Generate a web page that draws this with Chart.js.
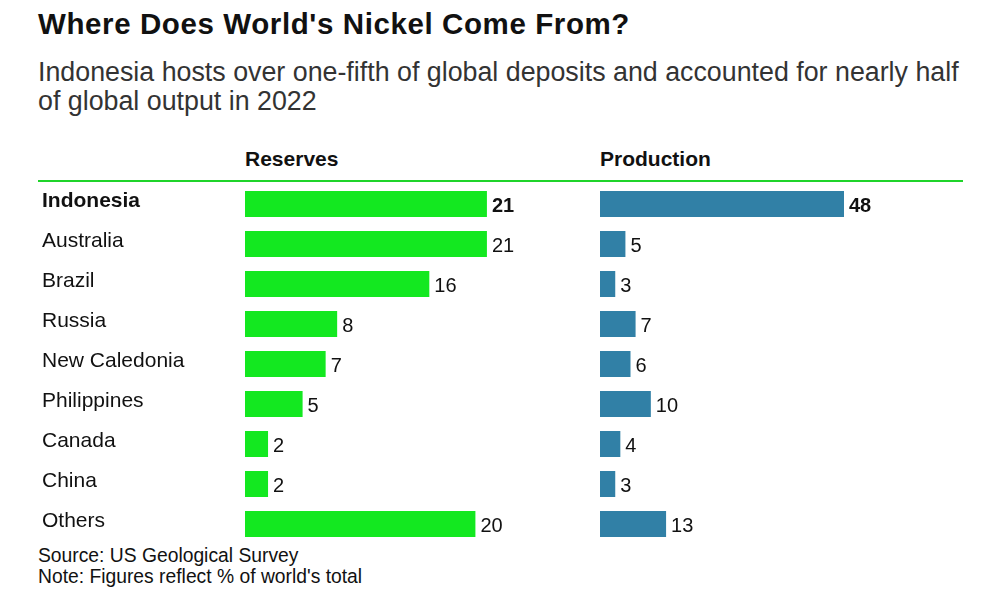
<!DOCTYPE html>
<html>
<head>
<meta charset="utf-8">
<script src="https://cdn.jsdelivr.net/npm/chart.js@4.4.0/dist/chart.umd.min.js"></script>
<style>
  body { margin: 0; background: #fff; font-family: "Liberation Sans", Arial, sans-serif; color: #111; }
  #wrap { position: relative; width: 1000px; height: 606px; overflow: hidden; }
  .t { position: absolute; white-space: nowrap; }
</style>
</head>
<body>
<div id="wrap">
  <div class="t" style="left:38px;top:7px;font-size:29.5px;line-height:34px;font-weight:bold;letter-spacing:0.6px;">Where Does World's Nickel Come From?</div>
  <div class="t" style="left:38px;top:58px;font-size:26.8px;line-height:29px;color:#333;">Indonesia hosts over one-fifth of global deposits and accounted for nearly half<br>of global output in 2022</div>
  <div class="t" style="left:245px;top:147px;font-size:21px;line-height:24px;font-weight:bold;">Reserves</div>
  <div class="t" style="left:600px;top:147px;font-size:21px;line-height:24px;font-weight:bold;">Production</div>
  <div style="position:absolute;left:38px;top:180px;width:925px;height:2px;background:#1fd42a;"></div>
  <div style="position:absolute;left:0;top:184px;width:560px;height:360px;"><canvas id="reserves"></canvas></div>
  <div style="position:absolute;left:560px;top:184px;width:440px;height:360px;"><canvas id="production"></canvas></div>
  <div class="t" style="left:38px;top:545px;font-size:19.3px;line-height:21px;color:#111;">Source: US Geological Survey<br>Note: Figures reflect % of world's total</div>
</div>
<script>
var countries = ['Indonesia', 'Australia', 'Brazil', 'Russia', 'New Caledonia', 'Philippines', 'Canada', 'China', 'Others'];
var reserves = [21, 21, 16, 8, 7, 5, 2, 2, 20];
var production = [48, 5, 3, 7, 6, 10, 4, 3, 13];

// numbers at the end of each bar, first row in bold
var valueLabels = {
  id: 'valueLabels',
  afterDatasetsDraw: function(chart) {
    var ctx = chart.ctx;
    var meta = chart.getDatasetMeta(0);
    var vals = chart.data.datasets[0].data;
    ctx.save();
    ctx.fillStyle = '#111';
    ctx.textAlign = 'left';
    ctx.textBaseline = 'middle';
    meta.data.forEach(function(bar, i) {
      ctx.font = (i === 0 ? 'bold ' : '') + '20px "Liberation Sans", Arial, sans-serif';
      ctx.fillText(vals[i], bar.x + 5, bar.y + 2.5);
    });
    ctx.restore();
  }
};

function makeChart(id, values, color, xmax, pad, showLabels) {
  return new Chart(document.getElementById(id), {
    type: 'bar',
    data: {
      labels: countries,
      datasets: [{
        data: values,
        backgroundColor: color,
        borderWidth: 0,
        barPercentage: 0.65,
        categoryPercentage: 1
      }]
    },
    options: {
      indexAxis: 'y',
      responsive: true,
      maintainAspectRatio: false,
      animation: false,
      layout: { padding: pad, autoPadding: false },
      plugins: { legend: { display: false }, tooltip: { enabled: false } },
      scales: {
        x: { display: false, min: 0, max: xmax },
        y: {
          display: showLabels,
          grid: { display: false },
          border: { display: false },
          afterFit: function(scale) {
            if (showLabels) scale.width = 203;
            scale.paddingTop = 0;
            scale.paddingBottom = 0;
          },
          ticks: {
            crossAlign: 'far',
            labelOffset: -3,
            padding: 0,
            color: '#111',
            font: function(c) {
              return { family: '"Liberation Sans", Arial, sans-serif', size: 21, weight: c.index === 0 ? 'bold' : 'normal' };
            }
          }
        }
      }
    },
    plugins: [valueLabels]
  });
}

makeChart('reserves', reserves, '#13e820', 25, { left: 42, right: 27, top: 0, bottom: 0 }, true);
makeChart('production', production, '#3180a6', 60, { left: 40, right: 95, top: 0, bottom: 0 }, false);
</script>
</body>
</html>
